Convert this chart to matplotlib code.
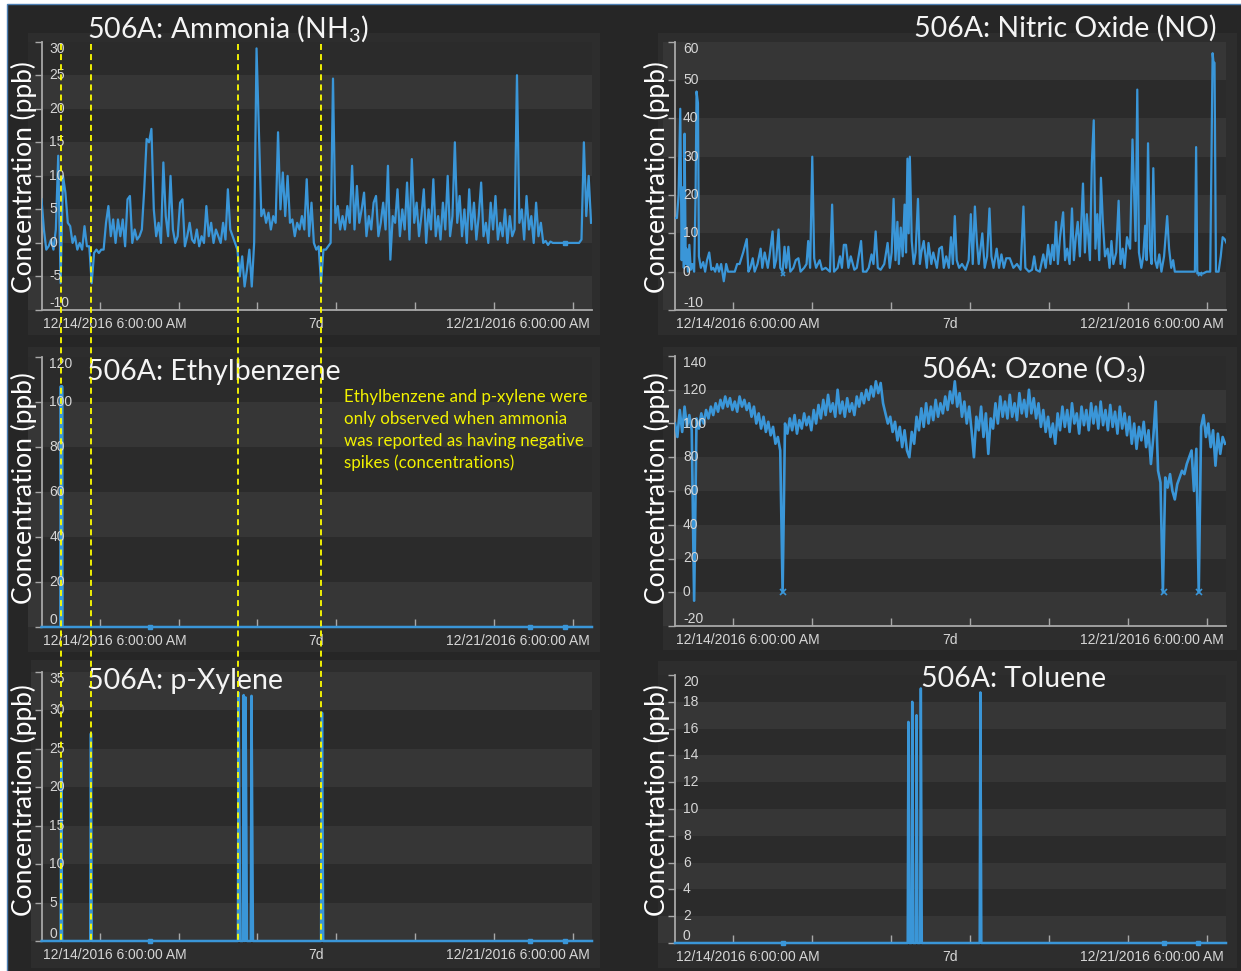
import numpy as np
import matplotlib
matplotlib.use('Agg')
import matplotlib.pyplot as plt
import matplotlib.transforms as mtransforms
from matplotlib.patches import Rectangle
from matplotlib.lines import Line2D

W, H = 1241, 971
plt.rcParams['mathtext.fontset'] = 'custom'
plt.rcParams['mathtext.rm'] = 'Lato'
plt.rcParams['mathtext.it'] = 'Lato:italic'

# ---------------- data (time in hours from start of window, ppb) ----------------
x_span = 230.4
tick_hours = [24.4, 57.4, 90.4, 123.4, 156.4, 189.4, 222.4]
label_hours = [30.6, 115.0, 199.4]
tick_labels = ['12/14/2016 6:00:00 AM', '7d', '12/21/2016 6:00:00 AM']
flag_hours = [8.0, 20.8, 82.4, 117.0]

# hourly ammonia
nh3_ppb = [6.5, 2, -1, -0.5, 0.5, -1, 2, 13, -6, 10, 7.5, 3, 2.5, 0, 1, -1, 0, -1, 2.5, -0.5,
           -0.5, -6, -1.5, -1, -1.5, -1, -1, 3, 5.5, 1, 3.5, 0, 3.5, 1, 3.5, -0.5, 6.5, 7, 0, 2,
           0.5, 1, 2, 8, 15.5, 15, 17, 5, 1, 3, 0, 12, 4, 1, 10, 2, 0, 1, 6, 6.5,
           -0.5, 1, 3, 0.5, 0, 2, -0.5, 1, 0, 5.5, 1, 3, 0, 2, 1, 0, 3, 0.5, 8, 2,
           1, 0, -1, -5, -2, -6.5, -4, -1, -6.5, 0, 29, 16.5, 4, 5, 3, 4.5, 2, 4, 3, 16.5,
           5, 10.5, 4, 10, 3, 3.5, 1, 3, 2, 4, 2, 9.5, 1, 6, 0, -1, -0.5, -6, -1, -1,
           -0.5, 0, 24.5, 3, 5.5, 2, 4, 2, 5.5, 3, 11.5, 2, 8.5, 3, 5, 7.5, 1, 4, 2, 6,
           7, 1, 3, 6, 2, 11.5, -2.5, 4, 3, 8, 1, 5, 2, 9, 0.5, 12.5, 3, 6, 1, 4,
           8, 0, 5, 2, 9.5, 1, 4, 0.5, 6, 2, 10, 1, 4, 15, 3, 7, 1, 5, 0, 8,
           2, 6, 0.5, 4, 9, 1, 3, 0, 6, 2, 7, 0.5, 3, 1, 5, 0, 4, 1, 2, 25,
           3, 5, 0.5, 7, 2, 4, 0, 6, 1, 3, 0, 0.3, -0.3, 0.2, 0, 0, 0, 0, 0, 0,
           0, 0, 0, 0, 0, 0, 0.5, 15, 4, 10, 3]

no_points = [(0, 14), (0.8, 14), (1.5, 20), (2.2, 42.5), (2.8, 3), (3.2, 22), (3.7, 1), (4.0, 36),
             (4.5, 2), (4.8, 6), (5.4, 0), (6.0, 7), (6.6, 0.5), (7.2, 2), (8.0, 0), (8.6, 20),
             (9.0, 47), (9.6, 44), (10.0, 4), (10.8, 1), (11.8, 2.5), (12.6, 0), (13.4, 3), (14.3, 5),
             (15.2, 0.5), (16.0, 1), (16.8, 0), (17.6, 2), (18.4, 0), (19.3, 2), (19.8, 0), (20.4, -2.5),
             (21.0, 0), (21.4, 2), (22.2, 0), (25.0, 0), (26.0, 2), (27.0, 2), (28.5, 5), (30.0, 8.5),
             (30.7, 0), (31.5, 1), (32.5, 3.5), (33.3, 0), (34.5, 2), (35.8, 6), (36.5, 1), (37.5, 5),
             (38.8, 1), (39.5, 4), (40.8, 10.5), (41.5, 1), (42.3, 3), (43.3, 11), (44.0, 1), (45.0, 0),
             (45.8, 6.5), (46.5, 1), (47.4, 6.5), (48.2, 0), (49.5, 1), (50.5, 3), (51.6, 3.5), (52.5, 0),
             (54.0, 1), (55.0, 2), (55.7, 8), (56.5, 1), (57.4, 30), (58.2, 3.5), (59.0, 1), (60.5, 3),
             (61.5, 0.5), (63.0, 1), (64.8, 0), (65.7, 17.5), (66.5, 0), (68.0, 1), (69.0, 4), (69.8, 1),
             (70.6, 7), (71.5, 7), (72.5, 1), (73.5, 4), (75.0, 0.5), (76.0, 1), (77.8, 8), (78.6, 0),
             (80.0, 0), (81.0, 1), (82.2, 4.5), (83.0, 2), (83.9, 10.5), (84.8, 1), (86.0, 0.5), (87.5, 2),
             (88.9, 7.5), (89.8, 1), (90.6, 5), (91.4, 19), (92.2, 3), (93.0, 13), (93.6, 2), (94.4, 11.5),
             (95.2, 4), (96.0, 17.5), (96.6, 5), (97.2, 29.5), (97.7, 10), (98.2, 30), (99.0, 8), (99.8, 2),
             (100.6, 5), (101.6, 19), (102.4, 2), (103.0, 5), (104.0, 8), (105.3, 1), (106.0, 7.5), (107.2, 2),
             (108.0, 5), (109.5, 1), (110.5, 6), (111.6, 6.5), (112.4, 1), (113.4, 4), (114.5, 1), (115.4, 9),
             (116.2, 2), (117.0, 14.5), (117.8, 3), (118.8, 1), (120.0, 2), (121.5, 0.5), (122.8, 3), (123.7, 15),
             (124.5, 2), (125.4, 17), (126.2, 8), (127.0, 2), (128.5, 10), (129.5, 1), (130.5, 4), (131.5, 16.5),
             (132.3, 4), (133.2, 1), (134.5, 6), (135.5, 1), (136.5, 4.5), (137.5, 1), (138.5, 3.5), (140.0, 3.5),
             (141.5, 1), (143.0, 2), (144.5, 0.5), (145.7, 17), (146.5, 1), (148.0, 0), (149.3, 0.5), (150.2, 4),
             (151.0, 0.5), (152.5, 0), (154.0, 4.5), (155.0, 1), (156.0, 7), (157.0, 2), (157.8, 7), (158.5, 3),
             (159.3, 13), (160.1, 2), (161.0, 9), (162.3, 15.5), (163.1, 3), (164.0, 6), (165.0, 2), (166.0, 16.5),
             (166.8, 3), (167.6, 9), (168.4, 13), (169.3, 4), (170.6, 23), (171.4, 5), (172.2, 15), (173.5, 3),
             (174.3, 28.5), (175.1, 39.5), (175.8, 6), (176.6, 15), (177.4, 3), (178.1, 24.5), (178.9, 13), (179.8, 4),
             (180.9, 6), (181.7, 1), (182.5, 8), (183.3, 2), (184.5, 5), (185.5, 18.5), (186.3, 2), (187.2, 6),
             (188.0, 1), (189.0, 9), (190.3, 6), (191.3, 34.5), (192.0, 20), (192.6, 8), (193.3, 47.5), (194.0, 5),
             (195.0, 1), (195.8, 4), (196.6, 12), (197.2, 3), (197.8, 33.5), (198.6, 6), (199.3, 2), (200.0, 27),
             (200.8, 3), (201.6, 1), (202.5, 4.5), (203.4, 0), (204.5, 4), (205.8, 14.5), (206.6, 6), (207.5, 1),
             (208.3, 3), (209.0, 0), (217.4, 0), (217.9, 32.5), (218.4, -0.5), (220.7, -0.5), (222.3, 0), (223.8, 0),
             (224.8, 57), (225.2, 54.5), (225.6, 54.5), (226.2, 0), (227.3, 0), (228.2, 4), (229.0, 9), (229.8, 8.5),
             (230.6, 7.5)]

# hourly ozone
o3_ppb = [100, 92, 108, 95, 110, 98, 105, 96, -5, 103, 97, 106, 100, 108, 103, 110, 105, 112, 107, 114,
          109, 116, 110, 115, 108, 113, 107, 116, 110, 114, 108, 112, 104, 110, 100, 106, 97, 104, 95, 101,
          93, 98, 88, 92, 84, 0, 100, 94, 103, 96, 105, 94, 102, 97, 106, 99, 104, 96, 108, 100,
          111, 103, 114, 105, 117, 107, 112, 104, 120, 106, 113, 104, 115, 107, 112, 105, 116, 110, 118, 112,
          120, 114, 122, 116, 125, 118, 124, 112, 106, 100, 104, 95, 101, 90, 98, 86, 96, 84, 80, 95,
          88, 104, 96, 109, 98, 112, 100, 110, 102, 114, 104, 112, 106, 116, 108, 119, 112, 125, 110, 118,
          104, 113, 100, 110, 96, 80, 104, 96, 110, 92, 106, 82, 103, 97, 112, 100, 116, 104, 113, 103,
          117, 104, 112, 102, 118, 106, 114, 104, 120, 106, 115, 103, 112, 98, 108, 95, 104, 92, 100, 88,
          106, 96, 110, 98, 108, 95, 112, 100, 106, 94, 110, 99, 108, 96, 112, 100, 110, 97, 113, 99,
          108, 96, 111, 98, 107, 94, 110, 97, 106, 93, 104, 88, 100, 85, 98, 90, 101, 86, 96, 76,
          92, 113, 72, 65, 0, 68, 62, 70, 60, 55, 64, 68, 72, 70, 76, 80, 84, 60, 85, 0,
          98, 105, 92, 100, 86, 96, 75, 94, 82, 92, 88]

ebz_points = [(0, 0), (7.9, 0), (8.1, 107), (8.4, 0), (8.6, 107), (8.8, 0), (230.4, 0)]
pxy_points = [(0, 0), (8.0, 0), (8.3, 23.5), (8.6, 0), (20.4, 0), (20.7, 27), (21.0, 0),
              (82.2, 0), (82.5, 32.3), (83.2, 0), (84.3, 0), (84.6, 32), (85.1, 0), (85.4, 31.7),
              (86.0, 0), (87.6, 0), (87.9, 31.9), (88.5, 0), (117.0, 0), (117.4, 29.7), (117.9, 0),
              (230.4, 0)]
tol_points = [(0, 0), (97.3, 0), (97.6, 16.5), (98.0, 0), (98.9, 0), (99.2, 18), (99.6, 0),
              (100.7, 0), (101.0, 17), (101.4, 0), (102.5, 0), (102.8, 19), (103.2, 0),
              (127.4, 0), (127.7, 18.7), (128.1, 0), (230.4, 0)]
gap_marks_left = [45.5, 204.3, 218.9]
gap_marks_right = [45.3, 204.4, 218.7]

# ---------------- style ----------------
BG = '#262626'
CARD = '#2d2d2d'
BAND_LIGHT = '#363636'
BAND_DARK = '#2b2b2b'
LINE = '#3a96d8'
AXC = '#a8a8a8'
TXT = '#d6d6d6'
TITLE_FONT = 'Lato'
TICK_FONT = 'Liberation Sans'

fig = plt.figure(figsize=(W / 100, H / 100), dpi=100)
fig.patch.set_facecolor('white')


def fig_rect(l, t, r, b, **kw):
    fig.add_artist(Rectangle((l / W, 1 - b / H), (r - l) / W, (b - t) / H,
                             transform=fig.transFigure, **kw))


fig_rect(7, 4, W + 2, H + 2, facecolor=BG, edgecolor='#4d7fb3', lw=1.0, zorder=-10)

cards = [(28, 33, 600, 335), (658, 33, 1237, 335),
         (28, 347, 600, 652), (663, 347, 1237, 650),
         (31, 660, 600, 968), (658, 661, 1237, 968)]
for c in cards:
    fig_rect(*c, facecolor=CARD, edgecolor='none', zorder=-9)


def make_axes(l, t, r, b, yticks, band_left):
    ax = fig.add_axes([l / W, 1 - b / H, (r - l) / W, (b - t) / H])
    ax.patch.set_visible(False)
    ax.set_xlim(0, x_span)
    ax.set_ylim(yticks[0], yticks[-1])
    xmin = -(l - band_left) / (r - l)
    for i in range(len(yticks) - 1):
        col = BAND_LIGHT if i % 2 == 0 else BAND_DARK
        ax.axhspan(yticks[i], yticks[i + 1], xmin=xmin, xmax=1, color=col, lw=0,
                   zorder=0, clip_on=False)
    for s in ['top', 'right']:
        ax.spines[s].set_visible(False)
    for s in ['left', 'bottom']:
        ax.spines[s].set_color(AXC)
        ax.spines[s].set_linewidth(1.3)
    ax.set_yticks(yticks)
    ax.tick_params(axis='y', direction='out', length=5, width=1, color=AXC, labelleft=False)
    ax.set_xticks(tick_hours)
    ax.set_xticks(label_hours, minor=True)
    ax.set_xticklabels(tick_labels, minor=True)
    ax.tick_params(axis='x', which='major', direction='in', length=6, width=1, color=AXC,
                   labelbottom=False)
    ax.tick_params(axis='x', which='minor', length=0, pad=5, labelsize=10, labelcolor=TXT)
    for lab in ax.get_xticklabels(minor=True):
        lab.set_fontfamily(TICK_FONT)
    # value labels sit inside the plot, kept within the axis range
    off = mtransforms.offset_copy(ax.get_yaxis_transform(), fig=fig, x=8, y=0, units='dots')
    for v in yticks:
        va = 'top' if v == yticks[-1] else ('bottom' if v == yticks[0] else 'center')
        ax.text(0, v, str(v), transform=off, ha='left', va=va, fontsize=10,
                color=TXT, family=TICK_FONT, zorder=4)
    return ax


def ylabel(x, yc):
    fig.text(x / W, 1 - yc / H, 'Concentration (ppb)', rotation=90, ha='center', va='center',
             fontsize=19, color='white', family=TITLE_FONT)


def title(x, yc, s, ha='left'):
    fig.text(x / W, 1 - yc / H, s, ha=ha, va='center', fontsize=20.5, color='#f4f4f4',
             family=TITLE_FONT)


hours = np.arange(len(nh3_ppb))
lw = 1.6

# Ammonia
ax1 = make_axes(41.5, 41.7, 592, 310, [-10, -5, 0, 5, 10, 15, 20, 25, 30], 28)
ax1.plot(hours, nh3_ppb, color=LINE, lw=lw, zorder=3)
ax1.plot([219.1], [0], marker='s', ms=3.5, color=LINE, zorder=3)

# Nitric oxide
ax2 = make_axes(675, 41.7, 1226, 310, [-10, 0, 10, 20, 30, 40, 50, 60], 663)
t, v = zip(*no_points)
ax2.plot(t, v, color=LINE, lw=lw, zorder=3)
ax2.plot([45.0, 219.5], [-0.5, -0.5], ls='none', marker='x', ms=3.5, mew=1.2, color=LINE, zorder=3)

# Ethylbenzene
ax3 = make_axes(41.5, 357, 592, 627, [0, 20, 40, 60, 80, 100, 120], 28)
t, v = zip(*ebz_points)
ax3.plot(t, v, color=LINE, lw=lw + 0.2, zorder=3, clip_on=False)
ax3.plot(gap_marks_left, [0] * 3, ls='none', marker='s', ms=3.5, color=LINE, zorder=3, clip_on=False)

# Ozone
ax4 = make_axes(675, 356, 1226, 626, [-20, 0, 20, 40, 60, 80, 100, 120, 140], 663)
ax4.plot(np.arange(len(o3_ppb)), o3_ppb, color=LINE, lw=lw + 0.3, zorder=3)
ax4.plot([45.3, 204.4, 219.0], [0, 0, 0], ls='none', marker='x', ms=4, mew=1.2, color=LINE, zorder=3)

# p-Xylene
ax5 = make_axes(41.5, 672, 592, 941, [0, 5, 10, 15, 20, 25, 30, 35], 31)
t, v = zip(*pxy_points)
ax5.plot(t, v, color=LINE, lw=lw + 0.2, zorder=3, clip_on=False)
ax5.plot(gap_marks_left, [0] * 3, ls='none', marker='s', ms=3.5, color=LINE, zorder=3, clip_on=False)

# Toluene
ax6 = make_axes(675, 675, 1226, 943, [0, 2, 4, 6, 8, 10, 12, 14, 16, 18, 20], 658)
t, v = zip(*tol_points)
ax6.plot(t, v, color=LINE, lw=lw + 0.2, zorder=3, clip_on=False)
ax6.plot(gap_marks_right, [0] * 3, ls='none', marker='s', ms=3.5, color=LINE, zorder=3, clip_on=False)

# titles and axis labels
title(87, 28, '506A: Ammonia (NH$_3$)')
title(1216, 28, '506A: Nitric Oxide (NO)', ha='right')
title(87, 372, '506A: Ethylbenzene')
title(921, 368, '506A: Ozone (O$_3$)')
title(87, 681, '506A: p-Xylene')
title(921, 679, '506A: Toluene')
for x in (23.5, 657):
    for yc in (177, 488, 800):
        ylabel(x, yc)

# note
note = ['Ethylbenzene and p-xylene were', 'only observed when ammonia',
        'was reported as having negative', 'spikes (concentrations)']
for i, s in enumerate(note):
    fig.text(344 / W, 1 - (397 + 22 * i) / H, s, ha='left', va='center', fontsize=12.2,
             color='#f2f200', family=TITLE_FONT)

# yellow markers of the negative ammonia spikes, running through the left column
blend = mtransforms.blended_transform_factory(ax1.transData, fig.transFigure)
for h in flag_hours:
    fig.add_artist(Line2D([h, h], [1 - 44 / H, 1 - 943 / H], transform=blend, color='#ffff00',
                          lw=1.3, ls=(0, (3.3, 2.3)), zorder=10))

fig.savefig('out.png', dpi=100, facecolor=fig.get_facecolor())
